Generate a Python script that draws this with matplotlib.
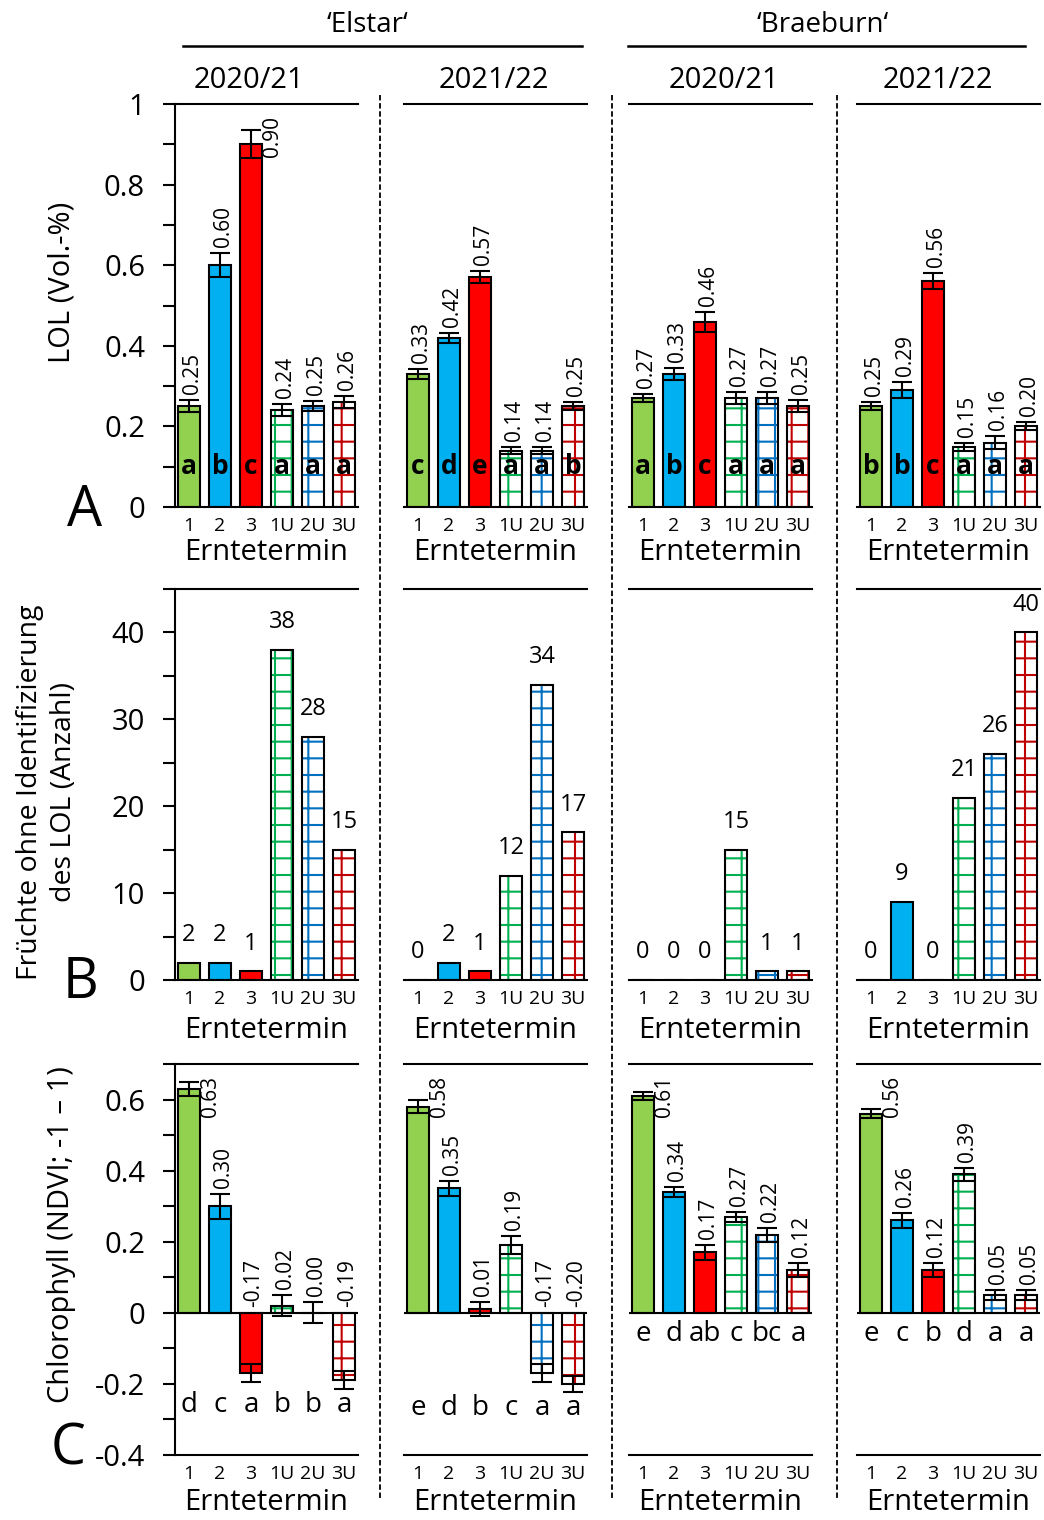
import numpy as np
import matplotlib
matplotlib.use('Agg')
import matplotlib.pyplot as plt
from matplotlib.lines import Line2D

plt.rcParams['font.family'] = ['Open Sans', 'DejaVu Sans']
plt.rcParams['hatch.linewidth'] = 1.5

W, H = 1044, 1520

# --- Daten ---
termine = ['1', '2', '3', '1U', '2U', '3U']
sorten = ['‘Elstar‘', '‘Braeburn‘']
jahre = ['2020/21', '2021/22', '2020/21', '2021/22']

# A: LOL (Vol.-%) je Panel (Elstar 20/21, Elstar 21/22, Braeburn 20/21, Braeburn 21/22)
lol_werte = [[0.25, 0.60, 0.90, 0.24, 0.25, 0.26],
             [0.33, 0.42, 0.57, 0.14, 0.14, 0.25],
             [0.27, 0.33, 0.46, 0.27, 0.27, 0.25],
             [0.25, 0.29, 0.56, 0.15, 0.16, 0.20]]
lol_fehler = [[0.015, 0.030, 0.035, 0.015, 0.013, 0.015],
              [0.012, 0.012, 0.015, 0.008, 0.008, 0.010],
              [0.010, 0.015, 0.025, 0.015, 0.015, 0.015],
              [0.010, 0.020, 0.020, 0.010, 0.015, 0.010]]
lol_buchst = [['a', 'b', 'c', 'a', 'a', 'a'],
              ['c', 'd', 'e', 'a', 'a', 'b'],
              ['a', 'b', 'c', 'a', 'a', 'a'],
              ['b', 'b', 'c', 'a', 'a', 'a']]

# B: Früchte ohne Identifizierung des LOL (Anzahl)
anzahl = [[2, 2, 1, 38, 28, 15],
          [0, 2, 1, 12, 34, 17],
          [0, 0, 0, 15, 1, 1],
          [0, 9, 0, 21, 26, 40]]

# C: Chlorophyll (NDVI)
ndvi_werte = [[0.63, 0.30, -0.17, 0.02, 0.00, -0.19],
              [0.58, 0.35, 0.01, 0.19, -0.17, -0.20],
              [0.61, 0.34, 0.17, 0.27, 0.22, 0.12],
              [0.56, 0.26, 0.12, 0.39, 0.05, 0.05]]
ndvi_fehler = [[0.020, 0.035, 0.025, 0.030, 0.030, 0.025],
               [0.018, 0.022, 0.020, 0.025, 0.025, 0.022],
               [0.012, 0.015, 0.020, 0.015, 0.020, 0.020],
               [0.012, 0.020, 0.020, 0.018, 0.015, 0.015]]
ndvi_buchst = [['d', 'c', 'a', 'b', 'b', 'a'],
               ['e', 'd', 'b', 'c', 'a', 'a'],
               ['e', 'd', 'ab', 'c', 'bc', 'a'],
               ['e', 'c', 'b', 'd', 'a', 'a']]

fuell = ['#92D050', '#00B0F0', '#FF0000', 'white', 'white', 'white']
schraff = [None, None, None, '#00B050', '#0070C0', '#C00000']

# --- Layout (Pixel) ---
fig = plt.figure(figsize=(W / 100, H / 100), dpi=100)
col_x = [175, 404, 629, 857]
col_w = 183
row_top = [104, 589, 1064]
row_h = [403, 391, 391]
xlab_y = [552, 1031, 1503]


def ax_px(x0, ytop, w, h):
    return fig.add_axes([x0 / W, 1 - (ytop + h) / H, w / W, h / H])


def balken(ax, werte, fehler=None):
    x = np.arange(len(werte))
    for i, v in enumerate(werte):
        if schraff[i] is None:
            ax.bar(x[i], v, 0.7, color=fuell[i], edgecolor='black', linewidth=1.5, zorder=2)
        else:
            ax.bar(x[i], v, 0.7, color='white', edgecolor=schraff[i], hatch='+', linewidth=0, zorder=2)
            ax.bar(x[i], v, 0.7, fill=False, edgecolor='black', linewidth=1.5, zorder=3)
    if fehler is not None:
        ax.errorbar(x, werte, yerr=fehler, fmt='none', ecolor='black', elinewidth=1.5,
                    capsize=7.5, capthick=1.5, zorder=4)


def beschriften(ax, werte, fehler, ylim, hoehe_px):
    px = hoehe_px / (ylim[1] - ylim[0])
    lab = 42 / px
    pad = 6 / px
    for i, (v, e) in enumerate(zip(werte, fehler)):
        unten = (v + e if v >= 0 else 0) + pad
        if unten + lab > ylim[1]:
            ax.text(i + 0.7, ylim[1] - 12 / px, f'{v:.2f}', rotation=90, ha='center', va='top',
                    fontsize=15, zorder=5)
        else:
            ax.text(i + 0.1, unten, f'{v:.2f}', rotation=90, ha='center', va='bottom',
                    fontsize=15, zorder=5)


ylims = [(0, 1), (0, 45), (-0.4, 0.7)]
yticks = [np.round(np.arange(0, 1.01, 0.1), 1),
          np.arange(0, 46, 5),
          np.round(np.arange(-0.4, 0.71, 0.1), 1)]
ylabels_txt = [[('0' if t == 0 else ('1' if t == 1 else f'{t:.1f}')) if round(t * 10) % 2 == 0 else '' for t in yticks[0]],
               [str(t) if t % 10 == 0 else '' for t in yticks[1]],
               [('0' if t == 0 else f'{t:.1f}') if round(t * 10) % 2 == 0 else '' for t in yticks[2]]]

for r in range(3):
    for c in range(4):
        ax = ax_px(col_x[c], row_top[r], col_w, row_h[r])
        ax.set_xlim(-0.45, 5.45)
        ax.set_ylim(*ylims[r])
        for s in ['top', 'bottom', 'left']:
            ax.spines[s].set_linewidth(1.5)
        ax.spines['right'].set_visible(False)
        ax.spines['left'].set_visible(c == 0)
        ax.set_xticks(range(6), termine)
        ax.tick_params(axis='x', length=0, labelsize=14, pad=7)
        if c == 0:
            ax.set_yticks(yticks[r], ylabels_txt[r])
            ax.tick_params(axis='y', direction='out', length=8.6, width=1.5, labelsize=21, pad=13)
        else:
            ax.set_yticks([])

        if r == 0:
            balken(ax, lol_werte[c], lol_fehler[c])
            beschriften(ax, lol_werte[c], lol_fehler[c], ylims[r], row_h[r])
            for i, b in enumerate(lol_buchst[c]):
                ax.text(i, 0.1, b, ha='center', va='center', fontsize=19, fontweight='bold', zorder=6)
        elif r == 1:
            balken(ax, anzahl[c])
            for i, v in enumerate(anzahl[c]):
                ax.text(i, v + 1.8, str(v), ha='center', va='bottom', fontsize=17)
        else:
            ax.axhline(0, color='black', linewidth=1.5, zorder=3)
            balken(ax, ndvi_werte[c], ndvi_fehler[c])
            beschriften(ax, ndvi_werte[c], ndvi_fehler[c], ylims[r], row_h[r])
            tief = min(np.array(ndvi_werte[c]) - np.array(ndvi_fehler[c]))
            yb = tief - 0.045 if tief < 0 else -0.06
            for i, b in enumerate(ndvi_buchst[c]):
                ax.text(i, yb, b, ha='center', va='center', fontsize=20)

        fig.text((col_x[c] + col_w / 2) / W, 1 - xlab_y[r] / H, 'Erntetermin',
                 ha='center', va='center', fontsize=21)

# Kopfzeilen
fig.text(368 / W, 1 - 25 / H, sorten[0], ha='center', va='center', fontsize=20)
fig.text(823 / W, 1 - 25 / H, sorten[1], ha='center', va='center', fontsize=20)
for x0, x1 in [(183, 582), (628, 1025)]:
    fig.add_artist(Line2D([x0 / W, x1 / W], [1 - 46 / H, 1 - 46 / H], color='black',
                          linewidth=1.8, transform=fig.transFigure))
for xc, j in zip([249, 494, 724, 938], jahre):
    fig.text(xc / W, 1 - 80 / H, j, ha='center', va='center', fontsize=21)

# gestrichelte Trennlinien
for xv in [380, 612, 837]:
    fig.add_artist(Line2D([xv / W, xv / W], [1 - 95 / H, 1 - 1500 / H], color='black',
                          linewidth=1.3, linestyle=(0, (3, 1.5)), transform=fig.transFigure))

# Achsentitel und Panelbuchstaben
fig.text(62 / W, 1 - 282 / H, 'LOL (Vol.-%)', rotation=90, ha='center', va='center', fontsize=21)
fig.text(30 / W, 1 - 792 / H, 'Früchte ohne Identifizierung', rotation=90,
         ha='center', va='center', fontsize=20.5)
fig.text(64 / W, 1 - 792 / H, 'des LOL (Anzahl)', rotation=90,
         ha='center', va='center', fontsize=20.5)
fig.text(62 / W, 1 - 1235 / H, 'Chlorophyll (NDVI; -1 – 1)', rotation=90, ha='center', va='center',
         fontsize=21)
fig.text(85 / W, 1 - 511 / H, 'A', ha='center', va='center', fontsize=40)
fig.text(80 / W, 1 - 983 / H, 'B', ha='center', va='center', fontsize=40)
fig.text(68 / W, 1 - 1450 / H, 'C', ha='center', va='center', fontsize=40)

fig.savefig('out.png', dpi=100)
